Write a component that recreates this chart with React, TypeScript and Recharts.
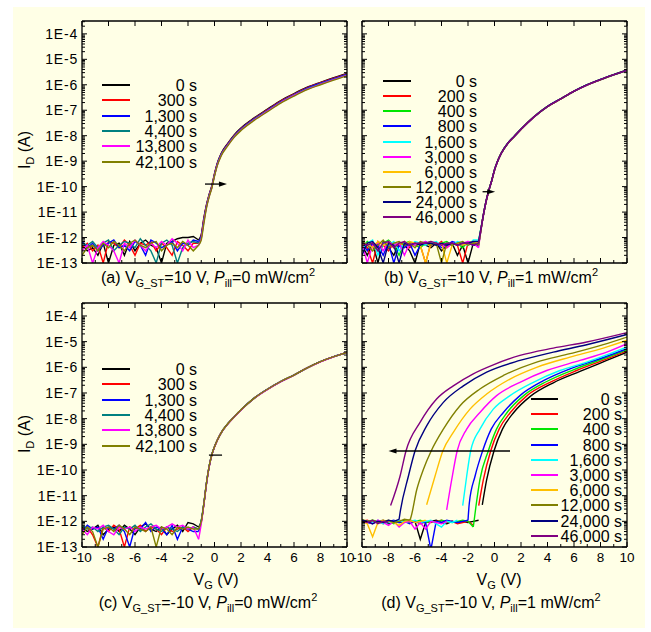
import React from 'react';
import { LineChart, Line, XAxis, YAxis, ReferenceLine } from 'recharts';

const FONT = '"Liberation Sans", Arial, Helvetica, sans-serif';

// ---------------- axes ----------------
const Y_MAJOR = [1e-13, 1e-12, 1e-11, 1e-10, 1e-9, 1e-8, 1e-7, 1e-6, 1e-5, 1e-4];
const Y_TICK_LABELS = ['1E-13', '1E-12', '1E-11', '1E-10', '1E-9', '1E-8', '1E-7', '1E-6', '1E-5', '1E-4'];
const Y_MINOR_MULT = [2, 3, 4, 5, 6, 7, 8, 9];
const Y_DOMAIN: [number, number] = [1e-13, 3.2e-4];
const X_DOMAIN: [number, number] = [-10, 10];
const X_MAJOR = [-10, -8, -6, -4, -2, 0, 2, 4, 6, 8, 10];
const X_TICK_LABELS = ['-10', '-8', '-6', '-4', '-2', '0', '2', '4', '6', '8', '10'];
const X_MINOR = [-9, -7, -5, -3, -1, 1, 3, 5, 7, 9];

// ---------------- shared grids ----------------
const FLOOR_VG = [-10, -9.6, -9.2, -8.8, -8.4, -8.0, -7.6, -7.2, -6.8, -6.4, -6.0, -5.6, -5.2, -4.8, -4.4, -4.0, -3.6, -3.2, -2.8, -2.4, -2.0, -1.6];
const RISE_VG = [-1.2, -1.0, -0.8, -0.6, -0.4, -0.2, 0, 0.2, 0.5, 1, 1.5, 2, 3, 4, 5, 6, 7, 8, 9, 10];
const D_FLOOR_VG = [-10, -9.6, -9.2, -8.8, -8.4, -8.0, -7.6, -7.2, -6.8, -6.4, -6.0, -5.6, -5.2, -4.8, -4.4, -4.0, -3.6, -3.2, -2.8, -2.4, -2.0, -1.6, -1.2];

// ---------------- legends ----------------
const A_NAMES = ['0 s', '300 s', '1,300 s', '4,400 s', '13,800 s', '42,100 s'];
const A_COLORS = ['#000000', '#FF0000', '#0000FF', '#008080', '#FF00FF', '#808000'];
const B_NAMES = ['0 s', '200 s', '400 s', '800 s', '1,600 s', '3,000 s', '6,000 s', '12,000 s', '24,000 s', '46,000 s'];
const B_COLORS = ['#000000', '#FF0000', '#00E600', '#0000FF', '#00FFFF', '#FF00FF', '#FFC000', '#808000', '#000080', '#800080'];

// ---------------- panel (a) ----------------
const A0_FLOOR = [5e-13, 3e-13, 4e-13, 2e-13, 6e-13, 1e-13, 5e-13, 6e-13, 2e-13, 7e-13, 3e-13, 6e-13, 8e-13, 5e-13, 4e-13, 1e-13, 6e-13, 7e-13, 9e-13, 1e-12, 1e-12, 1.1e-12];
const A1_FLOOR = [4e-13, 6e-13, 3e-13, 5e-13, 1e-13, 7e-13, 6e-13, 4e-13, 8e-13, 5e-13, 2e-13, 6e-13, 5e-13, 7e-13, 3e-13, 6e-13, 4e-13, 2e-13, 7e-13, 5e-13, 3e-13, 6e-13];
const A2_FLOOR = [7e-13, 4e-13, 6e-13, 3e-13, 5e-13, 6e-13, 8e-13, 4e-13, 5e-13, 3e-13, 7e-13, 5e-13, 2e-13, 8e-13, 6e-13, 4e-13, 5e-13, 7e-13, 3e-13, 6e-13, 5e-13, 8e-13];
const A3_FLOOR = [6e-13, 5e-13, 7e-13, 4e-13, 6e-13, 8e-13, 3e-13, 5e-13, 7e-13, 6e-13, 4e-13, 9e-13, 5e-13, 3e-13, 1e-13, 6e-13, 8e-13, 5e-13, 1e-13, 4e-13, 6e-13, 7e-13];
const A4_FLOOR = [3e-13, 5e-13, 1e-13, 4e-13, 7e-13, 5e-13, 3e-13, 1e-13, 6e-13, 4e-13, 8e-13, 5e-13, 3e-13, 6e-13, 4e-13, 7e-13, 5e-13, 9e-13, 6e-13, 3e-13, 8e-13, 4e-13];
const A5_FLOOR = [2e-13, 4e-13, 5e-13, 3e-13, 6e-13, 4e-13, 7e-13, 5e-13, 3e-13, 6e-13, 8e-13, 5e-13, 4e-13, 6e-13, 7e-13, 3e-13, 5e-13, 6e-13, 4e-13, 7e-13, 5e-13, 3e-13];
const A0_RISE = [8e-13, 1.3e-12, 6e-12, 2e-11, 5e-11, 1.1e-10, 3.2e-10, 8e-10, 2e-9, 5e-9, 1.1e-8, 2e-8, 5e-8, 1.1e-7, 2.4e-7, 4.5e-7, 8e-7, 1.25e-6, 1.9e-6, 2.8e-6];
const A1_RISE = [6e-13, 1.2e-12, 5.5e-12, 1.9e-11, 4.8e-11, 1.05e-10, 3.1e-10, 7.7e-10, 1.9e-9, 4.8e-9, 1.05e-8, 1.9e-8, 4.8e-8, 1.05e-7, 2.3e-7, 4.3e-7, 7.7e-7, 1.2e-6, 1.82e-6, 2.7e-6];
const A2_RISE = [7e-13, 1.1e-12, 5e-12, 1.8e-11, 4.6e-11, 1e-10, 2.9e-10, 7.4e-10, 1.84e-9, 4.6e-9, 1e-8, 1.84e-8, 4.6e-8, 1e-7, 2.2e-7, 4.1e-7, 7.4e-7, 1.15e-6, 1.75e-6, 2.58e-6];
const A3_RISE = [6e-13, 1e-12, 4.6e-12, 1.7e-11, 4.4e-11, 9.6e-11, 2.8e-10, 7e-10, 1.76e-9, 4.4e-9, 9.7e-9, 1.76e-8, 4.4e-8, 9.7e-8, 2.1e-7, 4e-7, 7e-7, 1.1e-6, 1.67e-6, 2.46e-6];
const A4_RISE = [5e-13, 9e-13, 4.2e-12, 1.6e-11, 4.2e-11, 9.2e-11, 2.7e-10, 6.7e-10, 1.68e-9, 4.2e-9, 9.2e-9, 1.68e-8, 4.2e-8, 9.2e-8, 2e-7, 3.8e-7, 6.7e-7, 1.05e-6, 1.6e-6, 2.35e-6];
const A5_RISE = [5e-13, 8e-13, 3.6e-12, 1.5e-11, 4e-11, 8.8e-11, 2.6e-10, 6.4e-10, 1.6e-9, 4e-9, 8.8e-9, 1.6e-8, 4e-8, 8.8e-8, 1.9e-7, 3.6e-7, 6.4e-7, 1e-6, 1.52e-6, 2.24e-6];

// ---------------- panel (b) ----------------
const B0_FLOOR = [5e-13, 2e-13, 6e-13, 1e-13, 7e-13, 4e-13, 2e-13, 6e-13, 5e-13, 3e-13, 1e-13, 6e-13, 5e-13, 4e-13, 6e-13, 3e-13, 5e-13, 6e-13, 2e-13, 5e-13, 1e-13, 6e-13];
const B1_FLOOR = [6e-13, 4e-13, 1e-13, 7e-13, 5e-13, 3e-13, 6e-13, 5e-13, 7e-13, 4e-13, 6e-13, 5e-13, 1e-13, 6e-13, 5e-13, 7e-13, 4e-13, 6e-13, 5e-13, 1e-13, 6e-13, 7e-13];
const B2_FLOOR = [4e-13, 7e-13, 5e-13, 3e-13, 6e-13, 8e-13, 5e-13, 2e-13, 6e-13, 7e-13, 5e-13, 4e-13, 6e-13, 7e-13, 5e-13, 6e-13, 7e-13, 5e-13, 6e-13, 4e-13, 7e-13, 6e-13];
const B3_FLOOR = [7e-13, 3e-13, 6e-13, 5e-13, 2e-13, 6e-13, 1e-13, 5e-13, 4e-13, 6e-13, 2e-13, 5e-13, 7e-13, 5e-13, 6e-13, 4e-13, 5e-13, 7e-13, 6e-13, 5e-13, 6e-13, 5e-13];
const B4_FLOOR = [3e-13, 6e-13, 8e-13, 2e-13, 6e-13, 5e-13, 7e-13, 3e-13, 6e-13, 5e-13, 7e-13, 6e-13, 5e-13, 6e-13, 7e-13, 5e-13, 6e-13, 5e-13, 7e-13, 6e-13, 5e-13, 8e-13];
const B5_FLOOR = [6e-13, 1e-13, 5e-13, 6e-13, 3e-13, 7e-13, 5e-13, 6e-13, 2e-13, 6e-13, 5e-13, 6e-13, 7e-13, 5e-13, 6e-13, 5e-13, 4e-13, 6e-13, 5e-13, 6e-13, 7e-13, 6e-13];
const B6_FLOOR = [5e-13, 6e-13, 4e-13, 7e-13, 5e-13, 6e-13, 4e-13, 6e-13, 5e-13, 7e-13, 6e-13, 5e-13, 1e-13, 6e-13, 5e-13, 6e-13, 1e-13, 5e-13, 6e-13, 5e-13, 6e-13, 7e-13];
const B7_FLOOR = [7e-13, 5e-13, 3e-13, 5e-13, 8e-13, 4e-13, 6e-13, 7e-13, 5e-13, 6e-13, 4e-13, 7e-13, 6e-13, 5e-13, 6e-13, 1e-13, 6e-13, 5e-13, 6e-13, 7e-13, 5e-13, 6e-13];
const B8_FLOOR = [2e-13, 6e-13, 7e-13, 4e-13, 1e-13, 6e-13, 5e-13, 1e-13, 6e-13, 5e-13, 6e-13, 5e-13, 6e-13, 6e-13, 5e-13, 6e-13, 5e-13, 6e-13, 5e-13, 6e-13, 6e-13, 7e-13];
const B9_FLOOR = [6e-13, 5e-13, 6e-13, 3e-13, 6e-13, 7e-13, 4e-13, 6e-13, 7e-13, 5e-13, 6e-13, 6e-13, 6e-13, 7e-13, 6e-13, 5e-13, 6e-13, 6e-13, 5e-13, 6e-13, 6e-13, 5e-13];
const B0_RISE = [5e-13, 2.5e-12, 1e-11, 3.2e-11, 8e-11, 1.8e-10, 4.5e-10, 9e-10, 2e-9, 5e-9, 9.5e-9, 1.8e-8, 5.6e-8, 1.4e-7, 2.8e-7, 5.6e-7, 1e-6, 1.6e-6, 2.5e-6, 3.7e-6];
const B1_RISE = [6e-13, 2.4e-12, 9.8e-12, 3.1e-11, 7.9e-11, 1.78e-10, 4.45e-10, 8.9e-10, 1.98e-9, 4.95e-9, 9.4e-9, 1.78e-8, 5.55e-8, 1.39e-7, 2.78e-7, 5.55e-7, 9.9e-7, 1.59e-6, 2.48e-6, 3.68e-6];
const B2_RISE = [7e-13, 2.6e-12, 1.02e-11, 3.25e-11, 8.1e-11, 1.82e-10, 4.55e-10, 9.1e-10, 2.02e-9, 5.05e-9, 9.6e-9, 1.82e-8, 5.65e-8, 1.41e-7, 2.82e-7, 5.65e-7, 1.01e-6, 1.61e-6, 2.52e-6, 3.72e-6];
const B3_RISE = [5e-13, 2.3e-12, 9.6e-12, 3.1e-11, 7.8e-11, 1.76e-10, 4.4e-10, 8.8e-10, 1.96e-9, 4.9e-9, 9.3e-9, 1.77e-8, 5.5e-8, 1.38e-7, 2.76e-7, 5.5e-7, 9.8e-7, 1.58e-6, 2.46e-6, 3.66e-6];
const B4_RISE = [8e-13, 2.7e-12, 1.05e-11, 3.3e-11, 8.2e-11, 1.83e-10, 4.6e-10, 9.2e-10, 2.04e-9, 5.1e-9, 9.7e-9, 1.83e-8, 5.7e-8, 1.42e-7, 2.84e-7, 5.7e-7, 1.02e-6, 1.62e-6, 2.53e-6, 3.74e-6];
const B5_RISE = [4e-13, 2.4e-12, 9.9e-12, 3.15e-11, 7.95e-11, 1.79e-10, 4.48e-10, 8.95e-10, 1.99e-9, 4.98e-9, 9.45e-9, 1.79e-8, 5.58e-8, 1.4e-7, 2.79e-7, 5.58e-7, 9.95e-7, 1.6e-6, 2.49e-6, 3.69e-6];
const B6_RISE = [6e-13, 2.5e-12, 1.01e-11, 3.22e-11, 8.05e-11, 1.81e-10, 4.52e-10, 9.05e-10, 2.01e-9, 5.02e-9, 9.55e-9, 1.81e-8, 5.62e-8, 1.41e-7, 2.81e-7, 5.62e-7, 1e-6, 1.6e-6, 2.5e-6, 3.71e-6];
const B7_RISE = [5e-13, 2.3e-12, 9.7e-12, 3.12e-11, 7.9e-11, 1.77e-10, 4.42e-10, 8.85e-10, 1.97e-9, 4.92e-9, 9.35e-9, 1.77e-8, 5.52e-8, 1.38e-7, 2.77e-7, 5.52e-7, 9.85e-7, 1.58e-6, 2.47e-6, 3.66e-6];
const B8_RISE = [7e-13, 2.6e-12, 1.03e-11, 3.27e-11, 8.12e-11, 1.83e-10, 4.57e-10, 9.12e-10, 2.03e-9, 5.06e-9, 9.62e-9, 1.82e-8, 5.66e-8, 1.42e-7, 2.83e-7, 5.66e-7, 1.01e-6, 1.62e-6, 2.52e-6, 3.73e-6];
const B9_RISE = [6e-13, 2.5e-12, 1e-11, 3.2e-11, 8e-11, 1.8e-10, 4.5e-10, 9e-10, 2e-9, 5e-9, 9.5e-9, 1.8e-8, 5.6e-8, 1.4e-7, 2.8e-7, 5.6e-7, 1e-6, 1.6e-6, 2.5e-6, 3.7e-6];

// ---------------- panel (c) ----------------
const C0_FLOOR = [6e-13, 4e-13, 5e-13, 7e-13, 3e-13, 5e-13, 6e-13, 4e-13, 7e-13, 5e-13, 3e-13, 6e-13, 8e-13, 5e-13, 4e-13, 6e-13, 3e-13, 5e-13, 7e-13, 4e-13, 9e-13, 8e-13];
const C1_FLOOR = [5e-13, 6e-13, 3e-13, 1e-13, 6e-13, 4e-13, 7e-13, 5e-13, 1e-13, 6e-13, 5e-13, 7e-13, 4e-13, 6e-13, 5e-13, 3e-13, 6e-13, 4e-13, 5e-13, 6e-13, 4e-13, 6e-13];
const C2_FLOOR = [4e-13, 7e-13, 5e-13, 6e-13, 2e-13, 6e-13, 5e-13, 7e-13, 4e-13, 1e-13, 6e-13, 5e-13, 9e-13, 4e-13, 6e-13, 5e-13, 3e-13, 7e-13, 2e-13, 6e-13, 5e-13, 4e-13];
const C3_FLOOR = [7e-13, 5e-13, 6e-13, 4e-13, 6e-13, 7e-13, 5e-13, 3e-13, 6e-13, 5e-13, 7e-13, 4e-13, 6e-13, 8e-13, 5e-13, 4e-13, 6e-13, 5e-13, 4e-13, 6e-13, 5e-13, 6e-13];
const C4_FLOOR = [5e-13, 3e-13, 6e-13, 5e-13, 7e-13, 4e-13, 3e-13, 6e-13, 5e-13, 6e-13, 4e-13, 6e-13, 5e-13, 6e-13, 7e-13, 5e-13, 6e-13, 8e-13, 6e-13, 7e-13, 5e-13, 6e-13];
const C5_FLOOR = [3e-13, 6e-13, 4e-13, 1e-13, 5e-13, 6e-13, 4e-13, 7e-13, 5e-13, 3e-13, 6e-13, 5e-13, 4e-13, 6e-13, 1e-13, 6e-13, 5e-13, 3e-13, 6e-13, 5e-13, 6e-13, 5e-13];
const C0_RISE = [6e-13, 1e-12, 5e-12, 3.2e-11, 1.4e-10, 4e-10, 8e-10, 1.4e-9, 2.8e-9, 6.3e-9, 1.2e-8, 2.2e-8, 6.3e-8, 1.4e-7, 2.8e-7, 5e-7, 9.5e-7, 1.66e-6, 2.6e-6, 3.8e-6];
const C1_RISE = [5e-13, 9e-13, 4.8e-12, 3.1e-11, 1.38e-10, 3.9e-10, 7.9e-10, 1.39e-9, 2.78e-9, 6.25e-9, 1.19e-8, 2.19e-8, 6.25e-8, 1.39e-7, 2.78e-7, 4.97e-7, 9.45e-7, 1.65e-6, 2.59e-6, 3.78e-6];
const C2_RISE = [4e-13, 1e-12, 4.9e-12, 3.15e-11, 1.39e-10, 3.95e-10, 7.95e-10, 1.4e-9, 2.79e-9, 6.28e-9, 1.2e-8, 2.2e-8, 6.28e-8, 1.4e-7, 2.79e-7, 4.98e-7, 9.48e-7, 1.66e-6, 2.6e-6, 3.79e-6];
const C3_RISE = [5e-13, 1.1e-12, 5.1e-12, 3.25e-11, 1.41e-10, 4.02e-10, 8.02e-10, 1.41e-9, 2.81e-9, 6.32e-9, 1.21e-8, 2.21e-8, 6.32e-8, 1.41e-7, 2.81e-7, 5.02e-7, 9.52e-7, 1.67e-6, 2.61e-6, 3.81e-6];
const C4_RISE = [2e-13, 8e-13, 4.6e-12, 3e-11, 1.36e-10, 3.88e-10, 7.85e-10, 1.38e-9, 2.77e-9, 6.22e-9, 1.19e-8, 2.18e-8, 6.22e-8, 1.38e-7, 2.77e-7, 4.95e-7, 9.42e-7, 1.64e-6, 2.58e-6, 3.77e-6];
const C5_RISE = [5e-13, 1e-12, 5e-12, 3.2e-11, 1.4e-10, 4e-10, 8e-10, 1.4e-9, 2.8e-9, 6.3e-9, 1.2e-8, 2.2e-8, 6.3e-8, 1.4e-7, 2.8e-7, 5e-7, 9.5e-7, 1.66e-6, 2.6e-6, 3.8e-6];

// ---------------- panel (d) ----------------
const D0_FLOOR = [1.1e-12, 1e-12, 9e-13, 1e-12, 1.1e-12, 8e-13, 1e-12, 9e-13, 1e-12, 1.1e-12, 1e-12, 2e-13, 9e-13, 1e-12, 1.1e-12, 9e-13, 8e-13, 1e-12, 9e-13, 1e-12, 9e-13, 1e-12, 1.1e-12];
const D1_FLOOR = [1e-12, 1.1e-12, 9e-13, 1e-12, 8e-13, 1e-12, 9e-13, 1.1e-12, 1e-12, 9e-13, 1e-12, 8e-13, 1e-12, 9e-13, 1e-12, 1.1e-12, 9e-13, 1e-12, 8e-13, 9e-13, 1e-12, 7e-13];
const D2_FLOOR = [9e-13, 1e-12, 1.1e-12, 1e-12, 9e-13, 1e-12, 8e-13, 1e-12, 1.1e-12, 9e-13, 1e-12, 1.1e-12, 9e-13, 1e-12, 9e-13, 1.1e-12, 1e-12, 9e-13, 1e-12, 1.1e-12, 1e-12, 6e-13];
const D3_FLOOR = [1e-12, 9e-13, 8e-13, 1.1e-12, 9e-13, 1e-12, 1.1e-12, 9e-13, 1e-12, 8e-13, 1e-12, 9e-13, 9e-13, 8e-14, 1e-12, 9e-13, 1.1e-12, 1e-12, 9e-13, 1e-12, 1.1e-12];
const D4_FLOOR = [1.1e-12, 1e-12, 9e-13, 1e-12, 8e-13, 9e-13, 1e-12, 1.1e-12, 9e-13, 1e-12, 1.1e-12, 9e-13, 1e-12, 1.1e-12, 8e-13, 6e-13, 1e-12, 9e-13, 1.1e-12];
const D5_FLOOR = [9e-13, 1e-12, 8e-13, 1.1e-12, 9e-13, 7e-13, 1e-12, 6e-13, 9e-13, 1e-12, 5e-13, 9e-13, 5e-13, 1e-12, 9e-13, 8e-13, 1e-12];
const D6_FLOOR = [1e-12, 8e-13, 2.5e-13, 9e-13, 1.1e-12, 1e-12, 9e-13, 7e-13, 1e-12, 1.1e-12, 9e-13, 1e-12, 1.1e-12];
const D7_FLOOR = [1.2e-12, 1e-12, 1.1e-12, 9e-13, 1e-12, 1.1e-12, 9e-13, 1e-12, 1.2e-12, 1.1e-12];
const D8_FLOOR = [1.1e-12, 1e-12, 8e-13, 1e-12, 9e-13, 1.1e-12, 1e-12, 1.2e-12];
const D9_FLOOR = [1e-12, 9e-13, 1.1e-12, 8e-13, 1e-12, 9e-13];

const D0_RISE_VG = [-0.92, -0.59, -0.04, 0.6, 1.45, 2.7, 4.44, 6.45, 8.47, 10];
const D0_RISE = [4.4e-12, 4.2e-11, 5.5e-10, 3.9e-9, 1.74e-8, 7.4e-8, 2.5e-7, 6.9e-7, 1.85e-6, 3.9e-6];
const D1_RISE_VG = [-1.19, -0.84, -0.29, 0.35, 1.2, 2.45, 4.19, 6.2, 8.34, 10];
const D1_RISE = [4.1e-12, 4.2e-11, 5.5e-10, 3.9e-9, 1.74e-8, 7.9e-8, 2.6e-7, 7.5e-7, 2e-6, 4.4e-6];
const D2_RISE_VG = [-1.6, -1.4, -1.1, -0.47, 0.15, 0.95, 2.2, 3.94, 5.95, 8.21, 10];
const D2_RISE = [6e-13, 3.8e-12, 4.2e-11, 5.5e-10, 3.9e-9, 1.74e-8, 7.9e-8, 2.8e-7, 8e-7, 2.15e-6, 4.85e-6];
const D3_RISE_VG = [-2.0, -1.9, -1.47, -0.9, -0.25, 0.67, 1.92, 3.69, 5.7, 7.96, 10];
const D3_RISE = [1.1e-12, 5.2e-12, 5.7e-11, 5.5e-10, 3.9e-9, 1.74e-8, 7.9e-8, 3e-7, 8.7e-7, 2.15e-6, 5.3e-6];
const D4_RISE_VG = [-2.4, -2.1, -1.8, -1.1, -0.09, 1.17, 2.93, 4.94, 6.96, 8.72, 10];
const D4_RISE = [4.1e-12, 5.7e-11, 5.5e-10, 3.9e-9, 2.35e-8, 7.9e-8, 2.6e-7, 7.5e-7, 1.6e-6, 3.4e-6, 6.2e-6];
const D5_RISE_VG = [-3.61, -3.23, -2.82, -2.1, -1.1, 0.16, 1.92, 3.94, 6.45, 8.47, 10];
const D5_RISE = [2.8e-12, 4.2e-11, 5.5e-10, 3.9e-9, 1.74e-8, 7.9e-8, 2.6e-7, 7.5e-7, 1.85e-6, 3.9e-6, 8.3e-6];
const D6_RISE_VG = [-5.12, -4.49, -3.9, -3.11, -1.85, -0.59, 1.17, 3.18, 5.7, 8.21, 10];
const D6_RISE = [4.4e-12, 5.7e-11, 5.5e-10, 2.9e-9, 2.35e-8, 9.1e-8, 3.5e-7, 1e-6, 2.5e-6, 5.6e-6, 1.13e-5];
const D7_RISE_VG = [-6.4, -6.33, -5.87, -5.37, -4.78, -3.86, -2.6, -1.1, 0.67, 3.18, 5.7, 8.21, 10];
const D7_RISE = [1.1e-12, 1.33e-12, 1.7e-11, 1.05e-10, 5.5e-10, 3.9e-9, 3.2e-8, 1.43e-7, 4.8e-7, 1.6e-6, 3.4e-6, 7.6e-6, 1.5e-5];
const D8_RISE_VG = [-7.2, -7.13, -6.5, -6.0, -5.12, -3.86, -2.35, -0.59, 1.92, 4.44, 6.96, 10];
const D8_RISE = [1.2e-12, 2.1e-12, 5.7e-11, 5.5e-10, 5.2e-9, 4.3e-8, 1.9e-7, 6.5e-7, 1.85e-6, 3.9e-6, 7.6e-6, 1.9e-5];
const D9_RISE_VG = [-7.84, -7.13, -6.68, -5.62, -4.37, -3.11, -1.6, -0.09, 1.92, 4.44, 6.96, 10];
const D9_RISE = [4.1e-12, 5.7e-11, 5.5e-10, 7.1e-9, 5.8e-8, 1.9e-7, 5.6e-7, 1.25e-6, 2.9e-6, 5.6e-6, 9.7e-6, 2.25e-5];

// ---------------- annotations (shift arrows, data coords) ----------------
const ARROW_A = [{ x: -0.72, y: 1.26e-10 }, { x: 0.94, y: 1.26e-10 }];
const ARROW_B = [{ x: -0.9, y: 6.3e-11 }, { x: 0.05, y: 6.3e-11 }];
const ARROW_C = [{ x: -0.42, y: 3.8e-10 }, { x: 0.57, y: 3.8e-10 }];
const ARROW_D = [{ x: 1.17, y: 5.5e-10 }, { x: -8.0, y: 5.5e-10 }];

// ---------------- builders ----------------
type Pt = { x: number; y: number };
type Seg = { data: Pt[]; curve: 'linear' | 'monotone'; color: string };

const pts = (xs: number[], ys: number[]): Pt[] => ys.map((y, i) => ({ x: xs[i], y }));

const joined = (floors: number[][], rises: number[][], colors: string[]): Seg[] =>
  floors.flatMap((f, i) => [
    { data: [...pts(FLOOR_VG, f), { x: RISE_VG[0], y: rises[i][0] }], curve: 'linear' as const, color: colors[i] },
    { data: pts(RISE_VG, rises[i]), curve: 'monotone' as const, color: colors[i] },
  ]);

const SEG_A = joined([A0_FLOOR, A1_FLOOR, A2_FLOOR, A3_FLOOR, A4_FLOOR, A5_FLOOR], [A0_RISE, A1_RISE, A2_RISE, A3_RISE, A4_RISE, A5_RISE], A_COLORS);
const SEG_B = joined(
  [B0_FLOOR, B1_FLOOR, B2_FLOOR, B3_FLOOR, B4_FLOOR, B5_FLOOR, B6_FLOOR, B7_FLOOR, B8_FLOOR, B9_FLOOR],
  [B0_RISE, B1_RISE, B2_RISE, B3_RISE, B4_RISE, B5_RISE, B6_RISE, B7_RISE, B8_RISE, B9_RISE],
  B_COLORS
);
const SEG_C = joined([C0_FLOOR, C1_FLOOR, C2_FLOOR, C3_FLOOR, C4_FLOOR, C5_FLOOR], [C0_RISE, C1_RISE, C2_RISE, C3_RISE, C4_RISE, C5_RISE], A_COLORS);

const D_FLOORS = [D0_FLOOR, D1_FLOOR, D2_FLOOR, D3_FLOOR, D4_FLOOR, D5_FLOOR, D6_FLOOR, D7_FLOOR, D8_FLOOR, D9_FLOOR];
const D_RISE_VGS = [D0_RISE_VG, D1_RISE_VG, D2_RISE_VG, D3_RISE_VG, D4_RISE_VG, D5_RISE_VG, D6_RISE_VG, D7_RISE_VG, D8_RISE_VG, D9_RISE_VG];
const D_RISES = [D0_RISE, D1_RISE, D2_RISE, D3_RISE, D4_RISE, D5_RISE, D6_RISE, D7_RISE, D8_RISE, D9_RISE];
const SEG_D: Seg[] = D_FLOORS.flatMap((f, i) => [
  { data: pts(D_FLOOR_VG, f), curve: 'linear' as const, color: B_COLORS[i] },
  { data: pts(D_RISE_VGS[i], D_RISES[i]), curve: 'monotone' as const, color: B_COLORS[i] },
]);

// ---------------- ticks ----------------
const Y_ALL = [...Y_MAJOR, ...Y_MAJOR.flatMap((m) => Y_MINOR_MULT.map((k) => k * m))]
  .filter((v) => v <= Y_DOMAIN[1] * 1.0001)
  .sort((a, b) => a - b);
const X_ALL = [...X_MAJOR, ...X_MINOR].sort((a, b) => a - b);

const majorIdx = (v: number) => Y_MAJOR.findIndex((m) => Math.abs(v / m - 1) < 1e-6);

const yTickText = { fontSize: 14, fontFamily: FONT, fill: '#000', letterSpacing: 0.8 };
const xTickText = { fontSize: 13.5, fontFamily: FONT, fill: '#000' };

const yTickLeft = (labels: boolean) => (p: any) => {
  const { x, y, payload } = p;
  const idx = majorIdx(payload.value);
  const len = idx >= 0 ? 5 : 3;
  return (
    <g>
      <line x1={x} y1={y} x2={x + len} y2={y} stroke="#000" strokeWidth={1} />
      {labels && idx >= 0 && (
        <text x={x - 4} y={y} dy="0.36em" textAnchor="end" {...yTickText}>
          {Y_TICK_LABELS[idx]}
        </text>
      )}
    </g>
  );
};
const yTickRight = (p: any) => {
  const { x, y, payload } = p;
  const len = majorIdx(payload.value) >= 0 ? 5 : 3;
  return <line x1={x} y1={y} x2={x - len} y2={y} stroke="#000" strokeWidth={1} />;
};
const xTickBottom = (labels: boolean) => (p: any) => {
  const { x, y, payload } = p;
  const idx = X_MAJOR.indexOf(payload.value);
  const len = idx >= 0 ? 5 : 3;
  return (
    <g>
      <line x1={x} y1={y} x2={x} y2={y - len} stroke="#000" strokeWidth={1} />
      {labels && idx >= 0 && (
        <text x={x} y={y + 15} textAnchor="middle" {...xTickText}>
          {X_TICK_LABELS[idx]}
        </text>
      )}
    </g>
  );
};
const xTickTop = (p: any) => {
  const { x, y } = p;
  return <line x1={x} y1={y} x2={x} y2={y + 5} stroke="#000" strokeWidth={1} />;
};

const arrowShape = (head: boolean) => (p: any) => {
  const { x1, y1, x2, y2 } = p;
  const dir = Math.sign(x2 - x1) || 1;
  return (
    <g>
      <line x1={x1} y1={y1} x2={head ? x2 - dir * 4 : x2} y2={y2} stroke="#000" strokeWidth={1.3} />
      {head && <polygon points={`${x2},${y2} ${x2 - dir * 8},${y2 - 2.6} ${x2 - dir * 8},${y2 + 2.6}`} fill="#000" />}
    </g>
  );
};

const AXIS_LINE = { stroke: '#000', strokeWidth: 1.3 };

type PanelProps = {
  left: number;
  top: number;
  width: number;
  height: number;
  yAxisWidth: number;
  segs: Seg[];
  xLabels: boolean;
  yLabels: boolean;
  arrow: Pt[];
  arrowHead: boolean;
};

function Panel({ left, top, width, height, yAxisWidth, segs, xLabels, yLabels, arrow, arrowHead }: PanelProps) {
  return (
    <div style={{ position: 'absolute', left, top }}>
      <LineChart width={width} height={height} margin={{ top: 9, right: 14, bottom: 0, left: 0 }}>
        <XAxis
          xAxisId="b"
          type="number"
          dataKey="x"
          domain={X_DOMAIN}
          allowDataOverflow
          ticks={X_ALL}
          interval={0}
          tickSize={0}
          tickMargin={0}
          height={30}
          axisLine={AXIS_LINE}
          tickLine={false}
          tick={xTickBottom(xLabels)}
        />
        <XAxis
          xAxisId="t"
          orientation="top"
          type="number"
          dataKey="x"
          domain={X_DOMAIN}
          allowDataOverflow
          ticks={X_MAJOR}
          interval={0}
          tickSize={0}
          tickMargin={0}
          height={1}
          axisLine={AXIS_LINE}
          tickLine={false}
          tick={xTickTop}
        />
        <YAxis
          yAxisId="l"
          type="number"
          scale="log"
          domain={Y_DOMAIN}
          allowDataOverflow
          ticks={Y_ALL}
          interval={0}
          tickSize={0}
          tickMargin={0}
          width={yAxisWidth}
          axisLine={AXIS_LINE}
          tickLine={false}
          tick={yTickLeft(yLabels)}
        />
        <YAxis
          yAxisId="r"
          orientation="right"
          type="number"
          scale="log"
          domain={Y_DOMAIN}
          allowDataOverflow
          ticks={Y_ALL}
          interval={0}
          tickSize={0}
          tickMargin={0}
          width={1}
          axisLine={AXIS_LINE}
          tickLine={false}
          tick={yTickRight}
        />
        {segs.map((s, i) => (
          <Line
            key={i}
            xAxisId="b"
            yAxisId="l"
            data={s.data}
            dataKey="y"
            type={s.curve}
            stroke={s.color}
            strokeWidth={1.4}
            dot={false}
            activeDot={false}
            isAnimationActive={false}
          />
        ))}
        <ReferenceLine xAxisId="b" yAxisId="l" segment={arrow} shape={arrowShape(arrowHead)} ifOverflow="visible" />
      </LineChart>
    </div>
  );
}

const abs = (s: React.CSSProperties): React.CSSProperties => ({ position: 'absolute', ...s });
const SUB: React.CSSProperties = { fontSize: 11, position: 'relative', top: 4 };
const SUP: React.CSSProperties = { fontSize: 11, position: 'relative', top: -7 };
const TEXT: React.CSSProperties = { fontSize: 16, fontFamily: FONT, color: '#000', lineHeight: '18px', whiteSpace: 'nowrap' };

function LegendBlock({ names, colors, x1, x2, textRight, y0, step, lw }: { names: string[]; colors: string[]; x1: number; x2: number; textRight: number; y0: number; step: number; lw: number }) {
  return (
    <>
      {names.map((n, i) => {
        const yc = Math.round(y0 + i * step);
        return (
          <React.Fragment key={n}>
            <div style={abs({ left: x1, top: yc - 1, width: x2 - x1, height: lw, background: colors[i] })} />
            <div style={abs({ ...TEXT, lineHeight: '15px', left: textRight - 120, width: 120, top: yc - 7, height: 15, textAlign: 'right' })}>{n}</div>
          </React.Fragment>
        );
      })}
    </>
  );
}

const CAPTION_LETTERS = ['(a)', '(b)', '(c)', '(d)'];
const CAPTION_VGST = ['10', '10', '-10', '-10'];
const CAPTION_PILL = ['0', '1', '0', '1'];
const CAPTION_POS = [
  { cx: 208, top: 269 },
  { cx: 491, top: 269 },
  { cx: 208, top: 594 },
  { cx: 491, top: 594 },
];

function Caption({ i }: { i: number }) {
  const { cx, top } = CAPTION_POS[i];
  return (
    <div style={abs({ ...TEXT, left: cx - 160, width: 320, top, textAlign: 'center' })}>
      {CAPTION_LETTERS[i]} V<span style={SUB}>G_ST</span>={CAPTION_VGST[i]} V, <i>P</i>
      <span style={SUB}>ill</span>={CAPTION_PILL[i]} mW/cm<span style={SUP}>2</span>
    </div>
  );
}

function YTitle({ cx, cy }: { cx: number; cy: number }) {
  return (
    <div style={abs({ ...TEXT, left: cx, top: cy, transform: 'translate(-50%, -50%) rotate(-90deg)' })}>
      I<span style={SUB}>D</span> (A)
    </div>
  );
}

function XTitle({ cx, top }: { cx: number; top: number }) {
  return (
    <div style={abs({ ...TEXT, left: cx - 60, width: 120, top, textAlign: 'center' })}>
      V<span style={SUB}>G</span> (V)
    </div>
  );
}

export default function App() {
  return (
    <div style={{ position: 'absolute', left: 0, top: 0, width: 651, height: 632, background: '#ffffff', overflow: 'hidden' }}>
      <style>{`.recharts-surface{overflow:visible}`}</style>
      <div style={abs({ left: 13, top: 7, width: 632, height: 621, background: '#FFFFE6' })} />

      <Panel left={12} top={11} width={350} height={282} yAxisWidth={70} segs={SEG_A} xLabels={false} yLabels arrow={ARROW_A} arrowHead />
      <Panel left={342} top={11} width={300} height={282} yAxisWidth={20} segs={SEG_B} xLabels={false} yLabels={false} arrow={ARROW_B} arrowHead />
      <Panel left={12} top={293} width={350} height={284} yAxisWidth={70} segs={SEG_C} xLabels yLabels arrow={ARROW_C} arrowHead={false} />
      <Panel left={342} top={293} width={300} height={284} yAxisWidth={20} segs={SEG_D} xLabels yLabels={false} arrow={ARROW_D} arrowHead />

      <LegendBlock names={A_NAMES} colors={A_COLORS} x1={102} x2={130} textRight={197} y0={85} step={15.3} lw={2} />
      <LegendBlock names={B_NAMES} colors={B_COLORS} x1={383} x2={411} textRight={477} y0={81} step={15.15} lw={2} />
      <LegendBlock names={A_NAMES} colors={A_COLORS} x1={102} x2={130} textRight={197} y0={369} step={15.3} lw={2} />
      <LegendBlock names={B_NAMES} colors={B_COLORS} x1={531} x2={558} textRight={622} y0={399} step={15.2} lw={2} />

      <YTitle cx={25} cy={150} />
      <YTitle cx={25} cy={434} />
      <XTitle cx={216} top={571} />
      <XTitle cx={499} top={571} />

      {[0, 1, 2, 3].map((i) => (
        <Caption key={i} i={i} />
      ))}
    </div>
  );
}
